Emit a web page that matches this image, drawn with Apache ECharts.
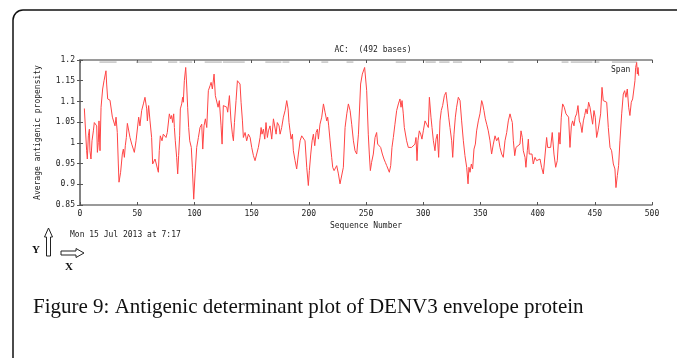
<!DOCTYPE html>
<html><head><meta charset="utf-8">
<script src="https://cdn.jsdelivr.net/npm/echarts@6/dist/echarts.min.js"></script>
<style>html,body{margin:0;padding:0;background:#fff}#c{width:677px;height:358px}</style>
</head><body><div id="c"></div>
<script>
// Sequence positions (residue) and average antigenic propensity
const seqPos = [3.8,4.7,5.8,6.4,7.3,8.2,8.7,9.6,10.5,11.7,12.5,14.0,14.6,15.2,16.0,16.6,17.5,18.4,19.8,21.0,22.7,23.3,24.2,26.2,27.1,28.3,29.7,30.6,31.5,32.6,33.5,34.1,35.5,37.0,37.9,38.8,39.6,40.5,41.4,42.8,43.7,45.2,46.6,47.5,49.0,50.4,51.3,52.4,53.9,55.4,56.8,58.3,58.9,60.0,61.2,62.6,63.5,65.6,66.4,68.5,69.3,70.2,71.7,72.8,74.3,75.2,76.3,78.1,79.3,80.1,81.0,81.9,82.5,83.3,84.5,85.4,86.2,87.1,87.7,88.9,89.7,90.3,91.2,92.4,93.2,94.1,95.0,95.9,97.3,98.2,99.4,
100.6,102.0,103.5,104.9,106.4,107.3,108.4,109.6,110.8,112.2,113.7,114.6,115.7,117.2,118.3,119.5,120.7,121.8,123.3,124.2,125.3,126.8,128.3,129.1,130.6,132.0,133.2,134.1,135.0,136.4,137.6,139.0,139.9,140.8,142.0,142.8,144.3,145.7,147.2,148.7,150.1,151.6,153.0,154.5,155.9,157.4,158.3,159.1,160.3,161.5,162.6,163.8,164.7,166.1,167.6,169.1,170.5,171.4,172.5,174.0,174.9,176.3,177.8,179.3,180.7,181.9,182.7,183.6,184.5,185.7,186.5,188.0,189.4,190.9,192.4,193.8,195.3,196.7,198.2,199.6,200.5,201.7,202.9,204.0,205.2,206.4,207.5,208.4,209.8,211.3,212.8,214.2,215.7,216.5,217.4,218.6,220.0,220.9,222.1,223.5,224.4,225.9,227.3,228.8,230.2,231.7,233.2,234.6,236.1,237.5,239.0,240.4,241.9,243.4,
245.3,246.8,247.7,248.8,249.7,250.6,252.0,252.9,253.8,254.9,256.4,257.9,259.3,260.2,261.4,262.8,264.3,265.7,266.9,268.1,269.2,270.4,271.6,272.7,273.9,275.3,276.8,278.3,279.7,280.6,281.5,282.6,283.5,284.4,285.5,287.0,288.5,289.9,291.4,292.8,293.7,294.6,295.4,296.6,297.8,298.9,300.1,301.6,303.0,304.5,305.4,305.9,306.8,307.7,308.9,310.3,311.2,312.3,313.5,314.7,315.8,317.0,318.5,319.9,321.1,322.3,323.4,324.9,325.8,326.9,328.1,329.2,330.7,332.2,333.6,335.1,336.5,338.0,339.2,340.0,340.9,342.1,343.2,344.4,345.6,346.7,348.2,349.6,351.1,352.0,353.1,354.3,355.5,356.9,358.4,359.8,361.3,362.8,364.2,365.7,367.1,368.6,370.0,371.5,373.0,374.4,375.9,377.0,377.9,378.8,380.0,381.1,382.6,
384.6,385.5,386.6,387.5,389.0,389.8,391.0,391.9,392.7,393.9,395.1,396.2,397.7,399.2,400.6,402.1,403.5,405.0,406.4,407.9,408.8,409.9,411.4,412.8,414.3,415.8,417.2,418.7,419.6,420.7,421.9,423.3,424.8,426.0,427.1,428.3,429.5,430.6,431.8,432.9,434.1,435.3,436.5,437.6,438.8,440.0,441.1,442.3,443.4,444.6,445.8,446.9,448.1,449.3,450.4,451.6,452.8,453.9,455.1,456.3,457.4,458.9,460.4,461.8,463.3,464.7,466.2,467.6,468.5,469.7,470.8,472.0,473.5,474.9,476.1,477.2,478.4,479.6,480.7,481.9,483.1,484.2,485.1,485.7,486.6,487.2,487.8,488.4];
const propensity = [1.083,1.082,0.981,0.961,1.017,1.033,0.981,0.961,1.005,1.029,1.049,1.045,1.041,0.977,1.001,1.053,0.981,1.086,1.130,1.150,1.174,1.142,1.106,1.103,1.102,1.062,1.063,1.041,1.062,1.025,0.949,0.905,0.929,0.973,0.985,0.965,0.993,1.013,1.047,1.045,1.013,0.997,0.985,0.977,1.005,1.009,1.062,1.041,1.078,1.094,1.110,1.082,1.053,1.090,1.053,1.013,0.949,0.961,0.965,0.929,0.981,1.017,1.005,1.021,1.025,1.013,1.025,1.070,1.058,1.066,1.049,1.070,1.037,1.005,0.965,0.925,0.969,1.017,1.082,1.094,1.110,1.098,1.150,1.182,1.142,1.086,1.037,1.005,0.989,0.941,0.864,
0.925,0.989,1.013,1.037,1.045,0.985,1.041,1.058,1.037,1.126,1.138,1.146,1.130,1.166,1.114,1.110,1.086,1.102,1.041,0.997,1.090,1.090,1.086,1.074,1.114,1.053,1.021,1.005,1.049,1.102,1.150,1.146,1.142,1.098,1.053,1.013,1.025,1.005,1.021,1.013,0.989,0.969,0.957,0.957,0.989,1.013,1.037,1.021,1.033,1.009,1.049,1.013,1.029,1.041,1.009,1.058,1.062,1.021,1.049,1.041,1.021,1.037,1.062,1.078,1.102,1.082,1.049,1.029,1.009,1.021,0.981,0.957,0.937,0.973,1.005,1.017,1.013,1.005,0.941,0.897,0.933,0.973,1.005,1.021,0.993,1.025,1.033,1.009,1.045,1.062,1.094,1.074,1.053,1.062,1.041,1.005,0.965,0.941,0.933,0.937,0.945,0.925,0.901,0.905,0.941,1.037,1.070,1.094,1.078,1.045,1.005,0.981,0.973,1.021,
1.142,1.166,1.170,1.182,1.186,1.126,1.021,0.973,0.933,0.953,0.973,1.013,1.025,0.997,1.001,0.989,0.973,0.961,0.953,0.945,0.941,0.929,0.945,0.989,1.013,1.045,1.078,1.094,1.106,1.086,1.102,1.070,1.037,1.033,1.005,0.989,0.985,0.989,0.989,0.997,1.013,0.957,1.005,1.029,1.021,1.009,1.029,1.053,1.045,1.037,1.110,1.114,1.062,1.037,1.005,0.981,1.009,1.021,0.965,1.053,1.078,1.090,1.114,1.122,1.094,1.062,1.037,1.005,0.965,1.021,1.062,1.086,1.110,1.102,1.053,1.005,0.969,0.941,0.901,0.941,0.929,0.949,0.937,0.985,0.997,1.029,1.053,1.070,1.102,1.094,1.078,1.058,1.045,1.029,1.005,0.973,0.997,1.017,1.005,1.013,0.989,0.973,0.965,1.005,1.025,1.053,1.070,1.058,1.049,1.005,0.969,0.989,0.985,
0.997,1.029,1.013,0.981,0.965,0.941,0.981,1.009,0.973,0.969,0.973,0.949,0.965,0.957,0.961,0.961,0.941,0.925,0.921,1.013,0.989,0.985,0.989,1.025,0.973,0.941,0.957,1.025,0.997,1.062,1.094,1.086,1.070,1.066,1.062,0.989,1.041,1.053,1.041,1.062,1.070,1.090,1.053,1.045,1.025,1.053,1.066,1.082,1.070,1.098,1.086,1.082,1.045,1.078,1.062,1.013,1.029,1.033,1.070,1.134,1.102,1.102,1.098,1.037,0.989,0.981,0.949,0.937,0.892,0.921,0.945,1.005,1.070,1.118,1.126,1.110,1.130,1.086,1.066,1.098,1.106,1.102,1.150,1.182,1.194,1.166,1.182,1.162];
// grey region bars along the top (start / end residue)
const regionStart = [17,49,77,87,109,125,162,177,211,233,276,302,314,326,374,421,429,449,465];
const regionEnd   = [32,63,85,98,124,144,176,183,217,239,285,311,323,334,379,427,448,454,487];
const regionLevel = 1.195;
const xTicks = {min:0, max:500, step:50};
const yTicks = {min:0.85, max:1.2, step:0.05};

const lineData = seqPos.map((x,i)=>[x, propensity[i]]);
const regionData = [];
regionStart.forEach((s,i)=>{ regionData.push([s,regionLevel],[regionEnd[i],regionLevel],[regionEnd[i],'-']); });

const mono = 'DejaVu Sans Mono';
const axisGray = '#7a7a7a';
const chart = echarts.init(document.getElementById('c'));
const baseX = {type:'value', min:xTicks.min, max:xTicks.max, interval:xTicks.step,
  axisLine:{show:true,lineStyle:{color:axisGray,width:1.5}}, splitLine:{show:false},
  axisTick:{show:true,inside:true,length:3,lineStyle:{color:'#555'}}};
const baseY = {type:'value', min:yTicks.min, max:yTicks.max, interval:yTicks.step,
  axisLine:{show:true,lineStyle:{color:axisGray,width:1.5}}, splitLine:{show:false},
  axisTick:{show:true,inside:true,length:3,lineStyle:{color:'#555'}}};
chart.setOption({
  animation:false,
  title:{text:'AC:  (492 bases)', left:368, top:41, textAlign:'center',
    textStyle:{fontFamily:mono,fontSize:8,fontWeight:'normal',color:'#222'}},
  grid:{left:80,right:25,top:60,bottom:153,containLabel:false},
  xAxis:[
    Object.assign({}, baseX, {position:'bottom', name:'Sequence Number', nameLocation:'middle', nameGap:17,
      nameTextStyle:{fontFamily:mono,fontSize:8,color:'#222'},
      axisLabel:{fontFamily:mono,fontSize:8,color:'#222',margin:5}}),
    Object.assign({}, baseX, {position:'top', axisLabel:{show:false}})
  ],
  yAxis:[
    Object.assign({}, baseY, {position:'left', name:'Average antigenic propensity', nameLocation:'middle', nameGap:38,
      nameTextStyle:{fontFamily:mono,fontSize:8,color:'#222'},
      axisLabel:{fontFamily:mono,fontSize:8,color:'#222',margin:5,formatter:v=>String(+v.toFixed(2))}}),
    Object.assign({}, baseY, {position:'right', axisLabel:{show:false}})
  ],
  series:[
    {type:'line', data:regionData, xAxisIndex:0, yAxisIndex:0, showSymbol:false, connectNulls:false,
     lineStyle:{color:'#a8a8a8',width:1}, silent:true},
    {type:'line', data:lineData, xAxisIndex:0, yAxisIndex:0, showSymbol:false,
     lineStyle:{color:'#ff4444',width:1}, silent:true}
  ],
  graphic:[
    {type:'rect', shape:{x:13,y:10,width:720,height:400,r:10}, style:{fill:'none',stroke:'#111',lineWidth:1.5}},
    {type:'text', left:611, top:66, style:{text:'Span', font:'8px "DejaVu Sans Mono"', fill:'#222'}},
    {type:'text', left:70, top:231, style:{text:'Mon 15 Jul 2013 at 7:17', font:'8px "DejaVu Sans Mono"', fill:'#222'}},
    {type:'polygon', shape:{points:[[46.5,256],[46.5,237],[44.5,237],[48.5,228],[52.5,237],[50.5,237],[50.5,256]]}, style:{fill:'#fff',stroke:'#222',lineWidth:1}},
    {type:'polygon', shape:{points:[[61,251],[76,251],[76,248.5],[84,253],[76,257.5],[76,255],[61,255]]}, style:{fill:'#fff',stroke:'#222',lineWidth:1}},
    {type:'text', left:32, top:245, style:{text:'Y', font:'bold 11px "Liberation Serif"', fill:'#111'}},
    {type:'text', left:65, top:262, style:{text:'X', font:'bold 11px "Liberation Serif"', fill:'#111'}},
    {type:'text', left:33, top:297, style:{text:'Figure 9: Antigenic determinant plot of DENV3 envelope protein', font:'21px "Liberation Serif"', fill:'#111'}}
  ]
});
</script></body></html>
